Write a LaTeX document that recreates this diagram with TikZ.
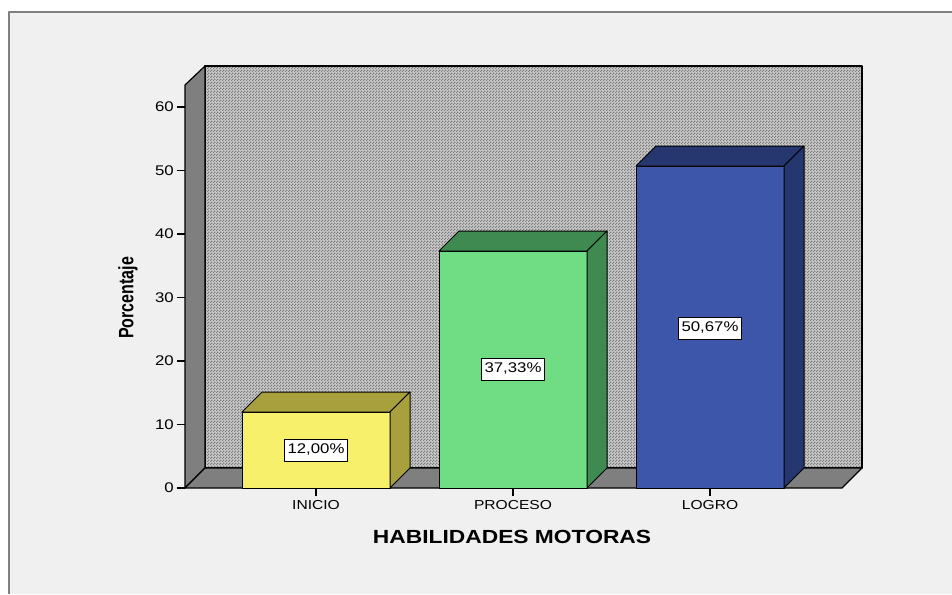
\documentclass[tikz,border=0pt]{standalone}
\usepackage{fontspec}
\setmainfont{Liberation Sans}
\usetikzlibrary{patterns,calc}
\pgfdeclarepatternformonly{checkerdots}{\pgfqpoint{0pt}{0pt}}{\pgfqpoint{3pt}{3pt}}{\pgfqpoint{3pt}{3pt}}{%
  \pgfpathrectangle{\pgfqpoint{0pt}{0pt}}{\pgfqpoint{1.5pt}{1.5pt}}%
  \pgfpathrectangle{\pgfqpoint{1.5pt}{1.5pt}}{\pgfqpoint{1.5pt}{1.5pt}}%
  \pgfusepath{fill}}
\definecolor{bgc}{HTML}{F0F0F0}
\definecolor{framec}{HTML}{808080}
\definecolor{wallc}{HTML}{CACACA}
\definecolor{dotc}{HTML}{7C7C7C}
\definecolor{sidec}{HTML}{7F7F7F}
\definecolor{yfront}{HTML}{F7F06B}
\definecolor{ydark}{HTML}{A8A03C}
\definecolor{gfront}{HTML}{70DD85}
\definecolor{gdark}{HTML}{3E8A50}
\definecolor{bfront}{HTML}{3E56AA}
\definecolor{bdark}{HTML}{26366E}
\newcommand{\sx}[1]{\scalebox{1.2}[1]{#1}}
\newcommand{\drawbarbox}[5]{%
  % #1 x1, #2 x2, #3 top, #4 front colour, #5 dark colour
  \filldraw[fill=#4, line width=1] (#1,488) rectangle (#2,#3);
  \filldraw[fill=#5, line width=1] (#1,#3) -- ++(20,-20) -- ($(#2,#3)+(20,-20)$) -- (#2,#3) -- cycle;
  \filldraw[fill=#5, line width=1] (#2,#3) -- ++(20,-20) -- (#2+20,468) -- (#2,488) -- cycle;
}
\tikzset{
  ticklab/.style={font=\fontsize{14}{14}\selectfont, anchor=east, inner sep=0pt},
  catlab/.style={font=\fontsize{13}{13}\selectfont, anchor=north, inner sep=0pt},
  vallab/.style={draw, fill=white, line width=0.8, font=\fontsize{14}{14}\selectfont, inner xsep=3pt, minimum height=22pt, inner ysep=0pt},
  tick/.style={line width=1.2}
}
\begin{document}
\begin{tikzpicture}[x=1pt,y=-1pt, line join=round]
\useasboundingbox (0,0) rectangle (952,594);
\fill[white] (0,0) rectangle (952,594);
\fill[bgc] (8,11) rectangle (952,594);
\draw[framec, line width=2] (9,594) -- (9,12) -- (952,12);
% back wall
\fill[wallc] (205,66) rectangle (862,468);
\fill[pattern=checkerdots, pattern color=dotc] (205,66) rectangle (862,468);
\draw[line width=1.2] (205,66) rectangle (862,468);
% left wall and floor
\filldraw[fill=sidec, line width=1.2] (185,85) -- (205,66) -- (205,468) -- (185,488) -- cycle;
\filldraw[fill=sidec, line width=1.2] (185,488) -- (205,468) -- (862,468) -- (842,488) -- cycle;
% y ticks
\foreach \v in {0,10,...,60}{
  \draw[tick] (177,{488-6.35*\v}) -- (185,{488-6.35*\v});
  \node[ticklab] (y\v) at (174,{488-6.35*\v}) {\sx{\v}};
}
% bars
\drawbarbox{242}{390}{412}{yfront}{ydark}
\drawbarbox{439}{587}{251}{gfront}{gdark}
\drawbarbox{636}{784}{166}{bfront}{bdark}
% value labels
\node[vallab] (v1) at (316,450) {\sx{12,00\%}};
\node[vallab] (v2) at (513,369) {\sx{37,33\%}};
\node[vallab] (v3) at (710,328) {\sx{50,67\%}};
% category ticks and labels
\foreach \x/\n/\t in {316/c1/INICIO,513/c2/PROCESO,710/c3/LOGRO}{
  \draw[tick] (\x,488) -- (\x,496);
  \node[catlab] (\n) at (\x,500) {\sx{\t}};
}
% axis titles
\node[font=\bfseries\fontsize{19}{19}\selectfont, inner sep=0pt] (xt) at (512,537) {\sx{HABILIDADES MOTORAS}};
\node[font=\bfseries\fontsize{16}{16}\selectfont, inner sep=0pt, rotate=90] (yt) at (128,298) {\scalebox{1}[1.3]{Porcentaje}};
\end{tikzpicture}
\end{document}
